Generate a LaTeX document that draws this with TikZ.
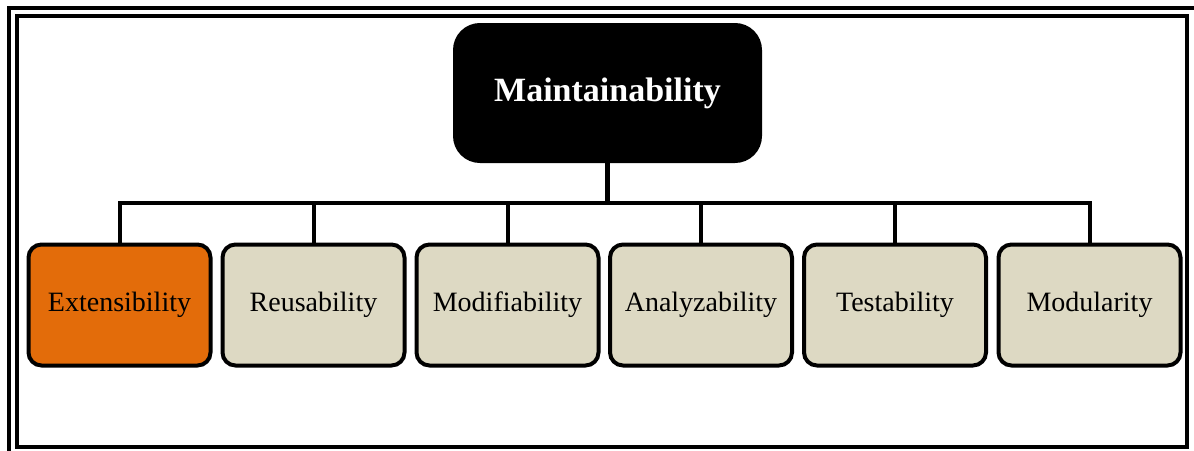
\documentclass[tikz,border=0pt]{standalone}
\usepackage{fontspec}
\setmainfont{Liberation Serif}
\begin{document}
\begin{tikzpicture}[x=1pt,y=-1pt,
  frame/.style={line width=4pt},
  wire/.style={line width=4pt},
  rootbox/.style={draw=black,fill=black,rounded corners=26pt,line width=2pt,
    minimum width=307pt,minimum height=138pt,text=white,
    font=\fontsize{34}{40}\selectfont\bfseries,inner sep=0pt},
  leafbox/.style={draw=black,fill=leafgray,rounded corners=13pt,line width=4pt,
    minimum width=182pt,minimum height=121pt,
    font=\fontsize{28}{33}\selectfont,inner sep=0pt},
  hotbox/.style={leafbox,fill=hotorange}]
\definecolor{leafgray}{HTML}{DDD9C3}
\definecolor{hotorange}{HTML}{E36C0A}
\useasboundingbox (0,0) rectangle (1194,450);
\fill[white] (0,0) rectangle (1194,450);
% double frame, the outer one running off the page
\begin{scope}
\clip (0,0) rectangle (1194,450);
\draw[frame] (9,460) -- (9,8) -- (1200,8);
\draw[frame] (17,16) rectangle (1187,447);
\end{scope}
% root
\node[rootbox] (root) at (607.5,93) {Maintainability};
% leaves
\node[hotbox]  (c1) at (119.5,305) {Extensibility};
\node[leafbox] (c2) at (313.5,305) {Reusability};
\node[leafbox] (c3) at (507.5,305) {Modifiability};
\node[leafbox] (c4) at (701,305) {Analyzability};
\node[leafbox] (c5) at (895,305) {Testability};
\node[leafbox] (c6) at (1089.5,305) {Modularity};
% connectors
\coordinate (bus) at (607.5,203);
\begin{scope}[on background layer/.style={}]
\draw[wire,line width=5pt] (root.south) -- (bus);
\foreach \c in {c1,c2,c3,c4,c5,c6}
  \draw[wire] (\c.north) |- (bus);
\end{scope}
\end{tikzpicture}
\end{document}
